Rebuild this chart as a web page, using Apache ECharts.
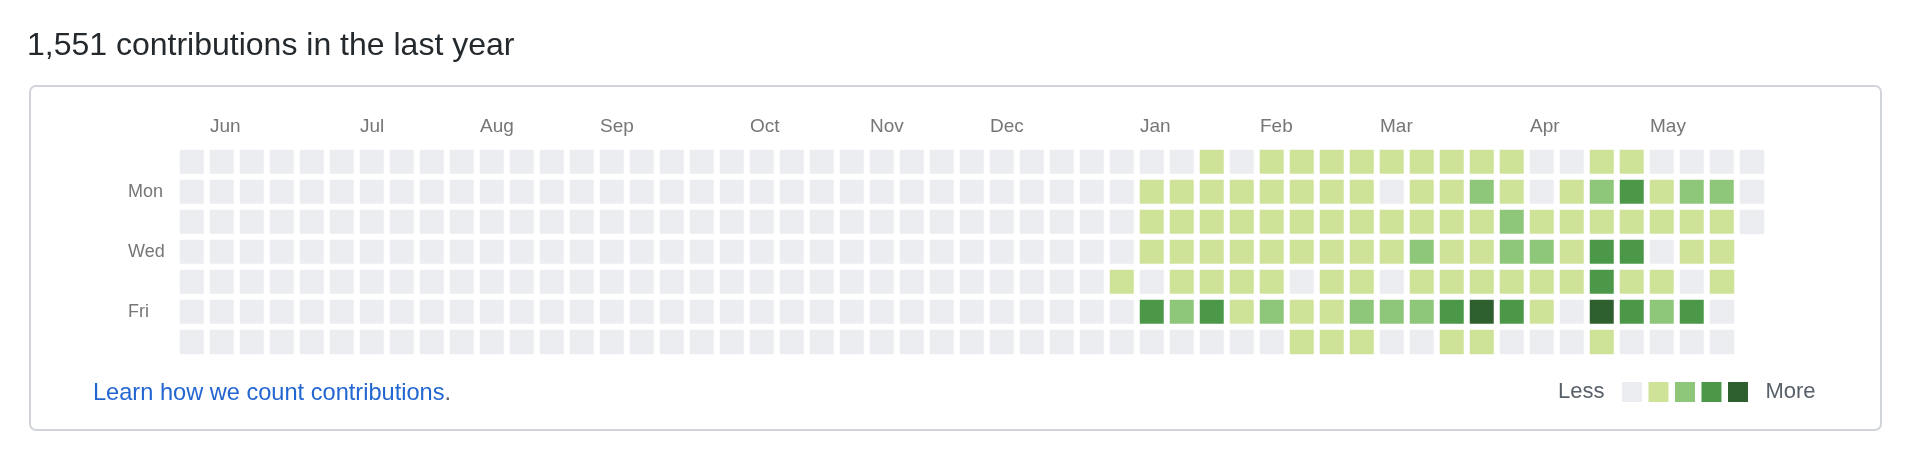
<!DOCTYPE html>
<html>
<head>
<meta charset="utf-8">
<script src="https://cdn.jsdelivr.net/npm/echarts@6/dist/echarts.min.js"></script>
<style>
html,body{margin:0;padding:0;background:#fff;}
#chart{width:1924px;height:462px;}
</style>
</head>
<body>
<div id="chart"></div>
<script>
// Weeks run from Sun 2018-05-20 (column 0) to Tue 2019-05-21 (column 52)
const titleText = '1,551 contributions in the last year';
const dayNames = ['Sun', 'Mon', 'Tue', 'Wed', 'Thu', 'Fri', 'Sat'];
const dayLabels = ['', 'Mon', '', 'Wed', '', 'Fri', ''];
// month label for each of the 53 week columns (empty = no label)
const monthLabels = ['', 'Jun', '', '', '', '', 'Jul', '', '', '', 'Aug', '', '', '', 'Sep', '', '', '', '', 'Oct', '', '', '', 'Nov', '', '', '', 'Dec', '', '', '', '', 'Jan', '', '', '', 'Feb', '', '', '', 'Mar', '', '', '', '', 'Apr', '', '', '', 'May', '', '', ''];
const levelColors = ['#ebedf0', '#cee398', '#8ec77a', '#4b9849', '#2e5f2e'];

// contribution level (0-4) per weekday row, one entry per week column
const sun = [0,0,0,0,0,0,0,0,0,0, 0,0,0,0,0,0,0,0,0,0, 0,0,0,0,0,0,0,0,0,0, 0,0,0,0,1,0,1,1,1,1, 1,1,1,1,1,0,0,1,1,0, 0,0,0];
const mon = [0,0,0,0,0,0,0,0,0,0, 0,0,0,0,0,0,0,0,0,0, 0,0,0,0,0,0,0,0,0,0, 0,0,1,1,1,1,1,1,1,1, 0,1,1,2,1,0,1,2,3,1, 2,2,0];
const tue = [0,0,0,0,0,0,0,0,0,0, 0,0,0,0,0,0,0,0,0,0, 0,0,0,0,0,0,0,0,0,0, 0,0,1,1,1,1,1,1,1,1, 1,1,1,1,2,1,1,1,1,1, 1,1,0];
const wed = [0,0,0,0,0,0,0,0,0,0, 0,0,0,0,0,0,0,0,0,0, 0,0,0,0,0,0,0,0,0,0, 0,0,1,1,1,1,1,1,1,1, 1,2,1,1,2,2,1,3,3,0, 1,1];
const thu = [0,0,0,0,0,0,0,0,0,0, 0,0,0,0,0,0,0,0,0,0, 0,0,0,0,0,0,0,0,0,0, 0,1,0,1,1,1,1,0,1,1, 0,1,1,1,1,1,1,3,1,1, 0,1];
const fri = [0,0,0,0,0,0,0,0,0,0, 0,0,0,0,0,0,0,0,0,0, 0,0,0,0,0,0,0,0,0,0, 0,0,3,2,3,1,2,1,1,2, 2,2,3,4,3,1,0,4,3,2, 3,0];
const sat = [0,0,0,0,0,0,0,0,0,0, 0,0,0,0,0,0,0,0,0,0, 0,0,0,0,0,0,0,0,0,0, 0,0,0,0,0,0,0,1,1,1, 0,0,1,1,0,0,0,1,0,0, 0,0];

const rows = [sun, mon, tue, wed, thu, fri, sat];
const weeks = monthLabels.map((_, i) => String(i));
const data = [];
rows.forEach((row, d) => row.forEach((lvl, w) => data.push([w, d, lvl])));

const FONT = '"Liberation Sans", Arial, Helvetica, sans-serif';
const chart = echarts.init(document.getElementById('chart'), null, {renderer: 'canvas'});
chart.setOption({
  animation: false,
  backgroundColor: '#fff',
  textStyle: {fontFamily: FONT},
  graphic: [{
    type: 'rect',
    z: -1,
    shape: {x: 30, y: 86, width: 1851, height: 344, r: 6},
    style: {fill: 'none', stroke: '#d1d5da', lineWidth: 2}
  }],
  title: [{
    text: titleText,
    left: 27, top: 30, padding: 0,
    textStyle: {fontFamily: FONT, fontSize: 32, fontWeight: 'normal', color: '#24292e'}
  }, {
    text: '{a|Learn how we count contributions}{b|.}',
    left: 93, top: 381, padding: 0,
    textStyle: {
      fontFamily: FONT, fontSize: 23.6, fontWeight: 'normal',
      rich: {
        a: {fontFamily: FONT, fontSize: 23.6, color: '#2366d1'},
        b: {fontFamily: FONT, fontSize: 23.6, color: '#586069'}
      }
    }
  }],
  grid: [
    {left: 177, top: 147, width: 1590, height: 210},
    {left: 180, top: 147, width: 1590, height: 210}
  ],
  xAxis: [{
    type: 'category', gridIndex: 0, data: weeks, position: 'top',
    axisLine: {show: false}, axisTick: {show: false}, axisLabel: {show: false},
    splitLine: {show: false}
  }, {
    type: 'value', gridIndex: 1, min: 0, max: 53, interval: 1, position: 'top',
    axisLine: {show: false}, axisTick: {show: false}, splitLine: {show: false},
    axisLabel: {
      show: true, align: 'left', verticalAlign: 'middle', margin: 20,
      fontFamily: FONT, fontSize: 19, color: '#767676',
      formatter: v => monthLabels[v] || ''
    }
  }],
  yAxis: [{
    type: 'category', gridIndex: 0, data: dayNames, inverse: true,
    axisLine: {show: false}, axisTick: {show: false}, splitLine: {show: false},
    axisLabel: {
      align: 'left', verticalAlign: 'middle', margin: 49, padding: [3, 0, 0, 0],
      fontFamily: FONT, fontSize: 18, color: '#767676',
      formatter: (v, i) => dayLabels[i]
    }
  }, {
    type: 'value', gridIndex: 1, show: false
  }],
  visualMap: {
    type: 'piecewise',
    seriesIndex: 0,
    dimension: 2,
    orient: 'horizontal',
    left: 1547, top: 381,
    padding: 0,
    itemWidth: 20, itemHeight: 20, itemGap: 6.5, itemSymbol: 'rect',
    text: ['More', 'Less'],
    showLabel: false,
    selectedMode: false,
    hoverLink: false,
    textStyle: {
      fontFamily: FONT, fontSize: 22, color: '#586069',
      padding: [0, 11, 0, 11], backgroundColor: 'rgba(255,255,255,0)'
    },
    pieces: levelColors.map((c, i) => ({value: i, color: c}))
  },
  series: [{
    type: 'heatmap',
    xAxisIndex: 0, yAxisIndex: 0,
    data: data,
    itemStyle: {borderColor: '#fff', borderWidth: 6},
    emphasis: {disabled: true}
  }]
});
</script>
</body>
</html>
